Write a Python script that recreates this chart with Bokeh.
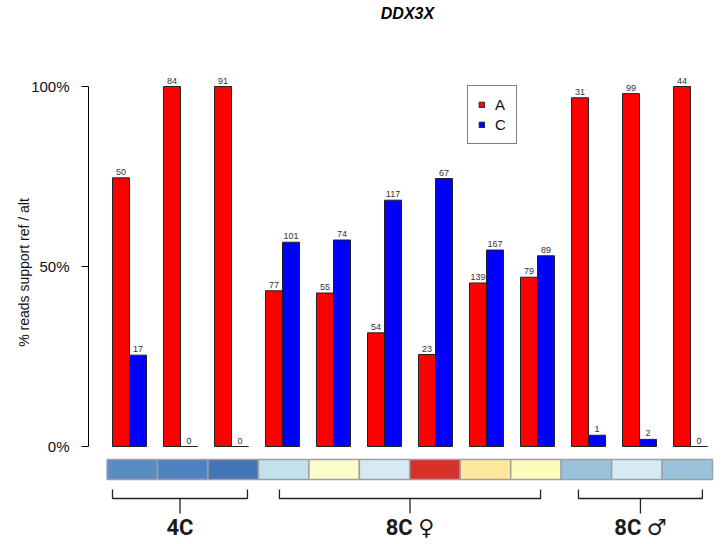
from bokeh.plotting import figure
from bokeh.models import (Range1d, LinearAxis, FixedTicker, NumeralTickFormatter,
                          ColumnDataSource, Legend, LegendItem)
from bokeh.core.properties import value
from bokeh.embed import file_html
from bokeh.resources import INLINE

# ---------------- data ----------------
title = "DDX3X"
alleles = ["A", "C"]
count_A = [50, 84, 91, 77, 55, 54, 23, 139, 79, 31, 99, 44]
count_C = [17, 0, 0, 101, 74, 117, 67, 167, 89, 1, 2, 0]
sample_colors = ["#5a8bc2", "#5181c0", "#4574b7", "#c3e0eb", "#fbfcc9", "#d5eaf3",
                 "#d73229", "#fee89b", "#fdfbbb", "#99c3dd", "#d5eaf3", "#99c3dd"]
group_names = ["4C", "8C \u2640", "8C \u2642"]
group_members = [[0, 1, 2], [3, 4, 5, 6, 7, 8], [9, 10, 11]]
y_ticks = [0, 0.5, 1]
y_label = "% reads support ref / alt"

# ---------------- derived ----------------
n = len(count_A)
tot = [a + c for a, c in zip(count_A, count_C)]
frac_A = [a / t for a, t in zip(count_A, tot)]
frac_C = [c / t for c, t in zip(count_C, tot)]
xa = [3 * i + 1.5 for i in range(n)]
xc = [3 * i + 2.5 for i in range(n)]

src_A = ColumnDataSource(dict(x=xa, top=frac_A, lab=[str(v) for v in count_A]))
src_C = ColumnDataSource(dict(x=xc, top=frac_C, lab=[str(v) for v in count_C]))

W, H = 724, 544
p = figure(width=W, height=H, output_backend="svg", toolbar_location=None,
           x_range=Range1d(-0.41176, 37.0), y_range=Range1d(-0.27222, 1.238889),
           min_border_left=88, min_border_right=0, min_border_top=0, min_border_bottom=0,
           x_axis_location=None, y_axis_location=None)
p.grid.visible = False
p.outline_line_color = None
p.background_fill_color = "white"

FONT = "Liberation Sans"

ax = LinearAxis(ticker=FixedTicker(ticks=y_ticks), formatter=NumeralTickFormatter(format="0%"),
                bounds=(0, 1))
ax.axis_label = y_label
ax.axis_label_text_font = FONT
ax.axis_label_text_font_style = "normal"
ax.axis_label_text_font_size = "14px"
ax.axis_label_text_color = "#111111"
ax.axis_label_standoff = -4
ax.major_label_text_font = FONT
ax.major_label_text_font_size = "15px"
ax.major_label_text_color = "#111111"
ax.major_label_standoff = 12
ax.major_tick_out = 7
ax.major_tick_in = 0
ax.minor_tick_line_color = None
ax.axis_line_color = "black"
ax.major_tick_line_color = "black"
p.add_layout(ax, "left")

rA = p.vbar(x="x", top="top", bottom=0, width=1, source=src_A,
            fill_color="#ff0000", line_color="#222222", line_width=1)
rC = p.vbar(x="x", top="top", bottom=0, width=1, source=src_C,
            fill_color="#0000ff", line_color="#222222", line_width=1)

for s in (src_A, src_C):
    p.text(x="x", y="top", text="lab", source=s, text_align="center",
           text_baseline="bottom", y_offset=-3, text_font=value(FONT),
           text_font_size="9px", text_color="#333333")

# sample colour strip
x0, cw = 0.68, 2.968
p.quad(left=[x0 + i * cw for i in range(n)], right=[x0 + (i + 1) * cw for i in range(n)],
       bottom=-0.0917, top=-0.0361, fill_color=sample_colors,
       line_color="#a0a0a0", line_width=1.5)

# group brackets
insets = [(0.0, 0.06), (0.82, 0.82), (0.41, 0.3)]
yt, yh, yb = -0.1194, -0.1444, -0.1861
bx, by, cx = [], [], []
for (li, ri), mem in zip(insets, group_members):
    l = 3 * mem[0] + 1 + li
    r = 3 * mem[-1] + 3 - ri
    c = (l + r) / 2
    cx.append(c)
    bx += [[l, l, r, r], [c, c]]
    by += [[yt, yh, yh, yt], [yh, yb]]
p.multi_line(xs=bx, ys=by, line_color="#222222", line_width=1.3)
p.text(x=cx, y=[-0.225] * len(cx), text=group_names, text_align="center",
       text_baseline="middle", text_font=value("Roboto, 'DejaVu Sans'"), text_font_style="bold",
       text_font_size="22px", text_color="#1a1a1a")

# title
p.text(x=[18.35], y=[1.2028], text=[title], text_align="center", text_baseline="middle",
       text_font=value(FONT), text_font_style="bold italic", text_font_size="16px",
       text_color="black")

legend = Legend(items=[LegendItem(label=alleles[0], renderers=[rA]),
                       LegendItem(label=alleles[1], renderers=[rC])],
                location=(379, 400), padding=10, spacing=3, margin=0,
                label_height=16, label_width=10, glyph_height=7, glyph_width=7,
                label_standoff=10,
                label_text_font=FONT, label_text_font_size="15px",
                label_text_color="#111111",
                border_line_color="black", border_line_width=1,
                background_fill_color="white", background_fill_alpha=1)
p.add_layout(legend, "center")

open("out.html", "w").write(file_html(p, INLINE))
